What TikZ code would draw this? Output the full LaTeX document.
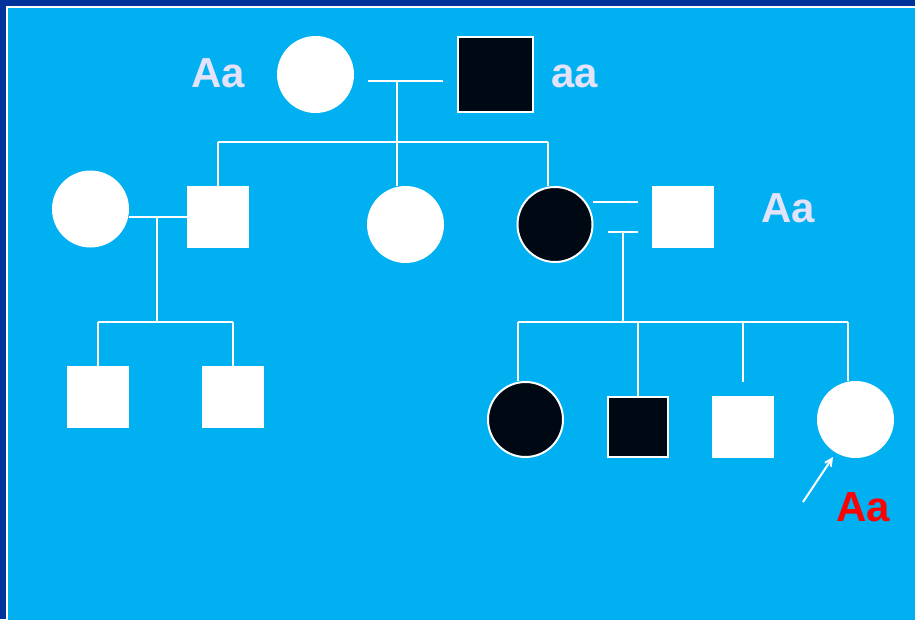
\documentclass[tikz,border=0pt]{standalone}
\usepackage{fontspec}
\setmainfont{Liberation Sans}
\usetikzlibrary{arrows.meta}
\definecolor{navy}{RGB}{0,51,153}
\definecolor{sky}{RGB}{0,176,240}
\definecolor{ink}{RGB}{0,8,20}
\definecolor{pale}{RGB}{226,226,250}
\definecolor{redlbl}{RGB}{255,0,0}
\begin{document}
\begin{tikzpicture}[x=1pt,y=-1pt,
  wline/.style={draw=white,line width=2pt},
  female/.style={circle,fill=white,inner sep=0pt,minimum size=77pt},
  male/.style={rectangle,fill=white,inner sep=0pt,minimum size=62pt},
  affected/.style={fill=ink,draw=white,line width=2pt},
  geno/.style={font=\bfseries\fontsize{42}{42}\selectfont,text=pale,anchor=base,inner sep=0pt}]
\useasboundingbox (0,0) rectangle (915,619);
\fill[navy] (0,0) rectangle (915,619);
\fill[sky,draw=white,line width=2pt] (7,7) rectangle (925,629);
% generation I
\node[female] (I1) at (315.5,74.5) {};
\node[male,affected,minimum size=75pt] (I2) at (495.5,74.5) {};
\node[geno] (gI1) at (218,87) {Aa};
\node[geno] (gI2) at (574.5,87) {aa};
\coordinate (m1l) at (368,81);
\coordinate (m1r) at (443,81);
\coordinate (m1d) at (397,81);
\coordinate (s1m) at (397,142);
\coordinate (s1l) at (218,142);
\coordinate (s1r) at (548,142);
\draw[wline] (m1l) -- (m1r);
\draw[wline] (m1d) -- (s1m);
\draw[wline] (s1l) -- (s1r);
% generation II
\node[female] (II1) at (90.5,209) {};
\node[male] (II2) at (218,217) {};
\node[female] (II3) at (405.5,224.5) {};
\node[female,affected,minimum size=75pt] (II4) at (555,224.5) {};
\node[male] (II5) at (683,217) {};
\node[geno] (gII5) at (788,222) {Aa};
\draw[wline] (s1l) -- (II2.north);
\draw[wline] (s1m) -- (s1m |- II3.north);
\draw[wline] (s1r) -- (s1r |- II4.north);
\draw[wline] (II2.west -| II1.east) -- (II2.west);
\coordinate (m2d) at (157,217);
\coordinate (s2m) at (157,322);
\draw[wline] (m2d) -- (s2m);
\coordinate (m3a) at (593,202);
\coordinate (m3b) at (638,202);
\coordinate (m3c) at (608,232);
\coordinate (m3e) at (638,232);
\coordinate (m3d) at (623,232);
\coordinate (s3m) at (623,322);
\draw[wline] (m3a) -- (m3b);
\draw[wline] (m3c) -- (m3e);
\draw[wline] (m3d) -- (s3m);
% generation III left
\node[male] (III1) at (98,397) {};
\node[male] (III2) at (233,397) {};
\coordinate (s2l) at (98,322);
\coordinate (s2r) at (233,322);
\draw[wline] (s2l) -- (s2r);
\draw[wline] (s2l) -- (III1.north);
\draw[wline] (s2r) -- (III2.north);
% generation III right
\node[female,affected,minimum size=75pt] (III3) at (525.5,419.5) {};
\node[male,affected,minimum size=60pt] (III4) at (638,426.5) {};
\node[male] (III5) at (743,427) {};
\node[female] (III6) at (855.5,419.5) {};
\coordinate (s3a) at (518,322);
\coordinate (s3b) at (638,322);
\coordinate (s3c) at (743,322);
\coordinate (s3d) at (848,322);
\coordinate (s3cend) at (743,382);
\draw[wline] (s3a) -- (s3d);
\draw[wline] (s3a) -- (s3a |- III3.north);
\draw[wline] (s3b) -- (III4.north);
\draw[wline] (s3c) -- (s3cend);
\draw[wline] (s3d) -- (s3d |- III6.north);
% proband arrow and label
\coordinate (arrtail) at (803,502);
\coordinate (arrhead) at (833,457);
\draw[white,line width=2pt,-{Straight Barb[length=7pt,width=7pt]}] (arrtail) -- (arrhead);
\node[geno,text=redlbl] (gIII6) at (863,521) {Aa};
\end{tikzpicture}
\end{document}
